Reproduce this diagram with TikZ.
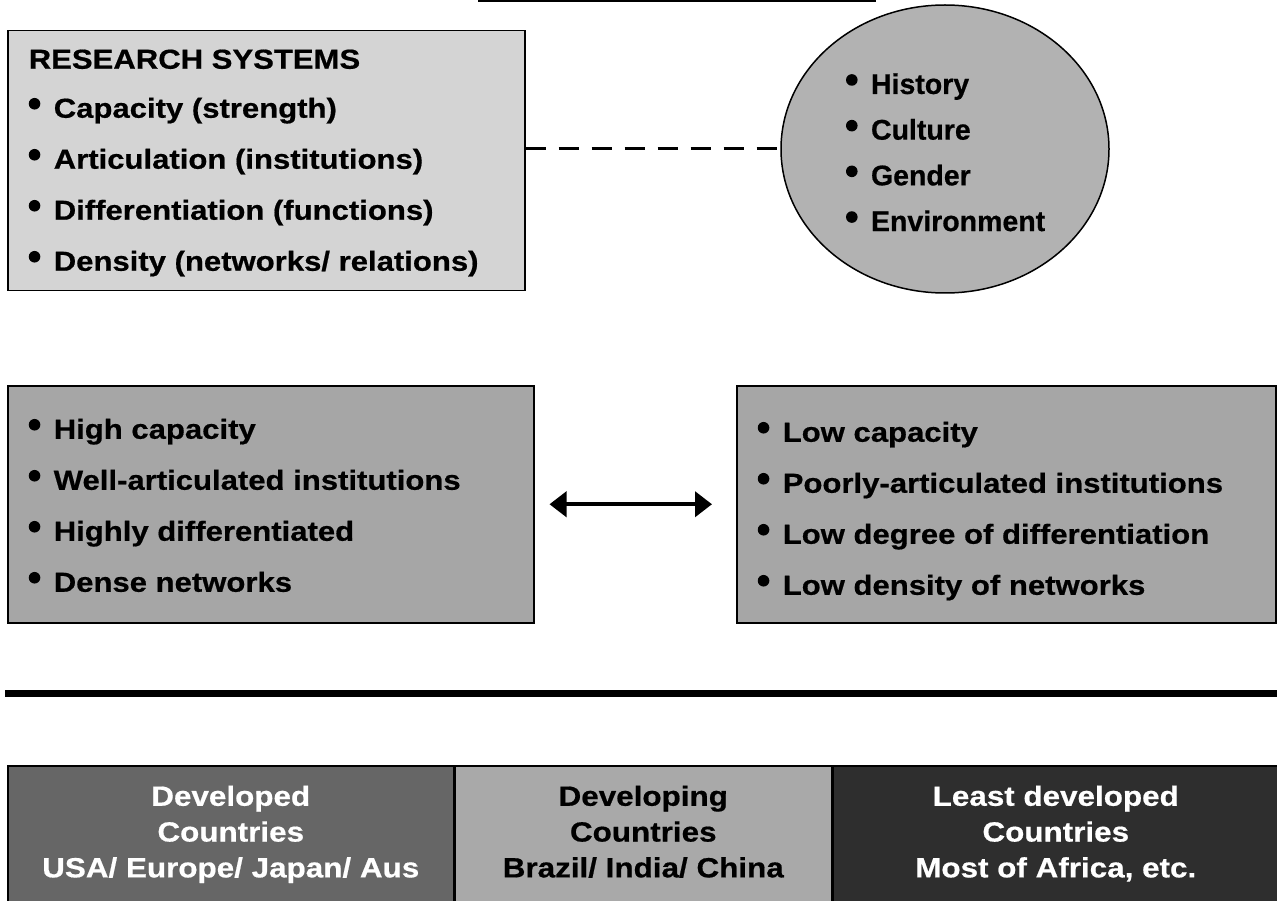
\documentclass[tikz,border=0pt]{standalone}
\usepackage{fontspec}
\setmainfont{Liberation Sans}[BoldFeatures={FakeBold=0.6}]
\newfontfamily\widefont{Liberation Sans}[FakeStretch=1.13,BoldFeatures={FakeBold=0.6}]
\usepackage{tikz}
\usepackage{xcolor}
\usetikzlibrary{calc,shapes.geometric,arrows.meta}
\definecolor{palegray}{HTML}{D4D4D4}
\definecolor{ovalgray}{HTML}{B2B2B2}
\definecolor{midgray}{HTML}{A6A6A6}
\definecolor{devgray}{HTML}{666666}
\definecolor{inggray}{HTML}{A9A9A9}
\definecolor{leastgray}{HTML}{2E2E2E}
\newcommand{\bp}{% bullet point
\tikz[baseline={(0pt,-14pt)}]{\fill (0pt,0pt) circle[radius=5.8pt];}\hspace{13.4pt}}
\tikzstyle{listbox} = [
    draw=black,
    line width=1.5pt,
    rectangle,
    anchor=north west,
    inner xsep=21pt,
    inner ysep=0pt,
    font=\widefont\fontsize{27.5}{51}\selectfont\bfseries
    ]
\tikzstyle{countrybox} = [
    draw=black,
    line width=1.5pt,
    rectangle,
    anchor=north west,
    minimum height=140pt,
    align=center,
    font=\widefont\fontsize{27.8}{35.8}\selectfont\bfseries
    ]

\begin{document}
\begin{tikzpicture}[x=1pt,y=-1pt]
\useasboundingbox (0,0) rectangle (1277,901);
\draw[line width=3pt] (478,1) -- (876,1);
\node [listbox, fill=palegray] (rs) at (7,30) {%
    \begin{minipage}[t][260pt][t]{475pt}\raggedright
\rule{0pt}{38pt}RESEARCH SYSTEMS\\[-2pt]
\bp Capacity (strength)\\
\bp Articulation (institutions)\\
\bp Differentiation (functions)\\
\bp Density (networks/ relations)
    \end{minipage}
};
\node [ellipse, draw=black, line width=1.5pt, fill=ovalgray, minimum width=328pt, minimum height=288pt, inner sep=0pt] (ctx) at (945,149) {%
    \begin{minipage}{210pt}\raggedright\leftskip=6pt\fontsize{28.5}{45.7}\selectfont\bfseries
\rule{0pt}{39pt}\bp History\\
\bp Culture\\
\bp Gender\\
\bp Environment\rule[-12pt]{0pt}{0pt}
    \end{minipage}
};
\draw[line width=3pt, dash pattern=on 20pt off 13pt] (rs.east |- ctx.west) -- (ctx.west);
\node [listbox, fill=midgray] (hi) at (7,385) {%
    \begin{minipage}[t][237pt][t]{484pt}\raggedright
\rule{0pt}{53pt}\bp High capacity\\
\bp Well-articulated institutions\\
\bp Highly differentiated\\
\bp Dense networks
    \end{minipage}
};
\node [listbox, fill=midgray] (lo) at (736,385) {%
    \begin{minipage}[t][237pt][t]{497pt}\raggedright
\rule{0pt}{56pt}\bp Low capacity\\
\bp Poorly-articulated institutions\\
\bp Low degree of differentiation\\
\bp Low density of networks
    \end{minipage}
};
\draw[{Triangle[length=17pt,width=25pt]}-{Triangle[length=17pt,width=25pt]}, line width=4pt, shorten <=15pt, shorten >=24pt] (hi.east) -- (lo.west);
\draw[line width=7pt] (5,693) -- (1277,693);
\node [countrybox, fill=devgray, text=white, minimum width=446pt] (dev) at (7,765) {\rule{0pt}{21.6pt}Developed\\Countries\\USA/ Europe/ Japan/ Aus\rule[-10pt]{0pt}{0pt}};
\node [countrybox, fill=inggray, minimum width=376pt] (ing) at (dev.north east) {\rule{0pt}{21.6pt}Developing\\Countries\\Brazil/ India/ China\rule[-10pt]{0pt}{0pt}};
\node [countrybox, fill=leastgray, text=white, minimum width=446pt] (least) at (ing.north east) {\rule{0pt}{21.6pt}Least developed\\Countries\\Most of Africa, etc.\rule[-10pt]{0pt}{0pt}};
\end{tikzpicture}
\end{document}
